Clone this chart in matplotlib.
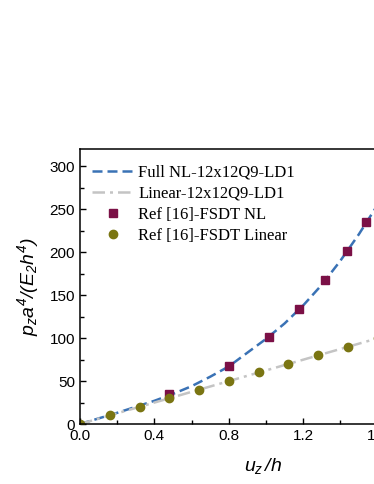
import matplotlib.pyplot as plt
from matplotlib.ticker import MultipleLocator

# Full NL-12x12Q9-LD1 curve
nl_x = [0.0, 0.1, 0.2, 0.3, 0.4, 0.5, 0.6, 0.7, 0.8, 0.9, 1.0, 1.1, 1.2, 1.3, 1.4, 1.5, 1.6, 1.7]
nl_y = [0.0, 6.5, 13.0, 20.0, 27.0, 35.0, 44.0, 55.0, 67.0, 83.0, 99.0, 117.0, 138.0, 162.0, 190.0, 221.0, 255.0, 292.0]

# Linear-12x12Q9-LD1 line
lin_x = [0.0, 1.7]
lin_y = [0.0, 106.0]

# Ref [16]-FSDT NL
ref_nl_x = [0.48, 0.80, 1.016, 1.176, 1.319, 1.434, 1.538]
ref_nl_y = [35.0, 67.8, 101.0, 133.7, 167.4, 201.0, 234.5]

# Ref [16]-FSDT Linear
ref_lin_x = [0.0, 0.16, 0.32, 0.48, 0.64, 0.80, 0.96, 1.12, 1.28, 1.44, 1.60]
ref_lin_y = [0, 10, 20, 30, 40, 50, 60, 70, 80, 90, 100]

plt.rcParams["font.family"] = "Liberation Sans"
plt.rcParams["mathtext.fontset"] = "custom"
plt.rcParams["mathtext.it"] = "Liberation Sans:italic"
plt.rcParams["mathtext.rm"] = "Liberation Sans:italic"

fig = plt.figure(figsize=(3.74, 4.84), dpi=100)
W, H = 374, 484
x0, y0, y1 = 80, 424, 149
xmax = 1.7
px_per_x = 186.0
ax = fig.add_axes([x0 / W, (H - y0) / H, xmax * px_per_x / W, (y0 - y1) / H])

ax.plot(nl_x, nl_y, color="#3a72b5", lw=1.8, dashes=(4, 2), label="Full NL-12x12Q9-LD1")
ax.plot(lin_x, lin_y, color="#c4c4c4", lw=1.8, dashes=(5, 2, 1.2, 2), label="Linear-12x12Q9-LD1")
ax.plot(ref_nl_x, ref_nl_y, "s", color="#7b1046", ms=5.5, label="Ref [16]-FSDT NL")
ax.plot(ref_lin_x, ref_lin_y, "o", color="#7a7512", ms=6, label="Ref [16]-FSDT Linear")

ax.set_xlim(0, xmax)
ax.set_ylim(0, 320)
ax.xaxis.set_major_locator(MultipleLocator(0.4))
ax.xaxis.set_minor_locator(MultipleLocator(0.2))
ax.yaxis.set_major_locator(MultipleLocator(50))
ax.yaxis.set_minor_locator(MultipleLocator(25))
ax.xaxis.set_major_formatter(lambda v, p: f"{v:.1f}")
ax.tick_params(which="both", direction="in", top=False, right=False, labelsize=11, width=1)
ax.tick_params(which="major", length=4.5)
ax.tick_params(which="minor", length=3)
for s in ax.spines.values():
    s.set_linewidth(1.1)

ax.set_ylabel(r"$p_za^4/(E_2h^4)$", fontsize=14, labelpad=6)
ax.set_xlabel(r"$u_z\,/h$", fontsize=14)
ax.xaxis.set_label_coords((263 - x0) / (xmax * px_per_x), -0.115)

leg = ax.legend(loc="upper left", bbox_to_anchor=(0.0, 0.985), frameon=False,
                prop={"family": "Liberation Serif", "size": 12},
                handlelength=2.6, handletextpad=0.2, labelspacing=0.3, borderaxespad=0.3)

fig.savefig("out.png", dpi=100)
